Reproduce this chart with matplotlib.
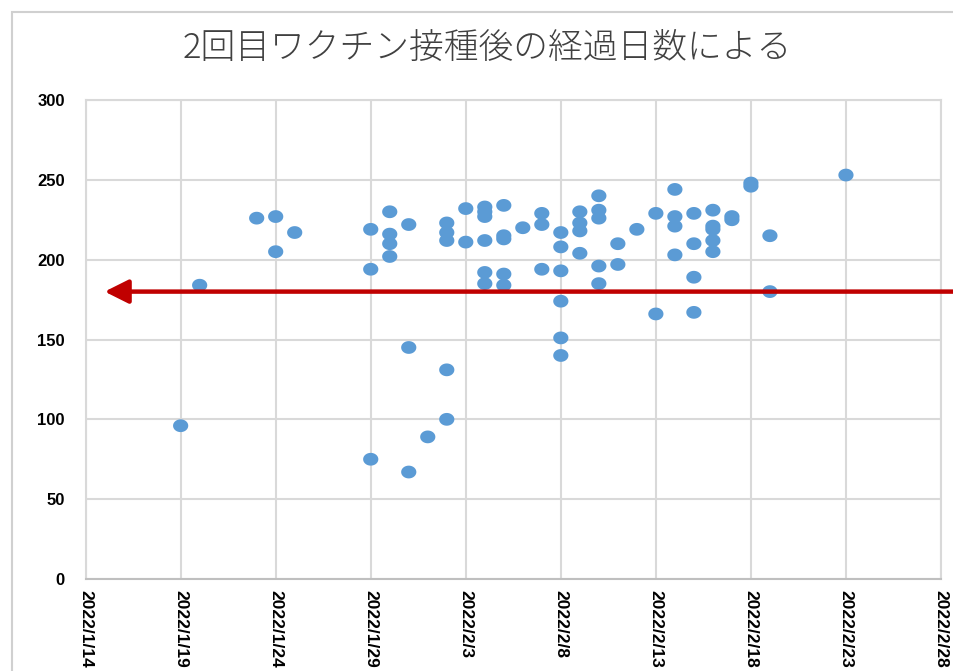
# 2回目ワクチン接種後の経過日数 - 散布図
import numpy as np
import pandas as pd
import matplotlib
matplotlib.use('Agg')
import matplotlib.pyplot as plt
from matplotlib.path import Path
from matplotlib.patches import Rectangle

titulo = '2回目ワクチン接種後の経過日数による'

# data: date of infection / days since 2nd dose
datas = (['2022/1/19', '2022/1/20', '2022/1/23'] + ['2022/1/24'] * 2 + ['2022/1/25']
         + ['2022/1/29'] * 3 + ['2022/1/30'] * 4 + ['2022/1/31'] * 3 + ['2022/2/1']
         + ['2022/2/2'] * 5 + ['2022/2/3'] * 2 + ['2022/2/4'] * 6 + ['2022/2/5'] * 5
         + ['2022/2/6'] + ['2022/2/7'] * 3 + ['2022/2/8'] * 6 + ['2022/2/9'] * 4
         + ['2022/2/10'] * 5 + ['2022/2/11'] * 2 + ['2022/2/12'] + ['2022/2/13'] * 2
         + ['2022/2/14'] * 4 + ['2022/2/15'] * 4 + ['2022/2/16'] * 5 + ['2022/2/17'] * 2
         + ['2022/2/18'] * 2 + ['2022/2/19'] * 2 + ['2022/2/23'])
dias = [96, 184, 226, 227, 205, 217,
        219, 194, 75, 230, 216, 210, 202, 222, 145, 67, 89,
        223, 217, 212, 131, 100, 232, 211, 233, 230, 227, 212, 192, 185,
        234, 215, 213, 191, 184, 220, 229, 222, 194,
        217, 208, 193, 174, 151, 140, 230, 223, 218, 204,
        240, 231, 226, 196, 185, 210, 197, 219, 229, 166,
        244, 227, 221, 203, 229, 210, 189, 167,
        231, 221, 219, 212, 205, 227, 225, 248, 246, 215, 180, 253]

rotulos_x = ['2022/1/14', '2022/1/19', '2022/1/24', '2022/1/29', '2022/2/3',
             '2022/2/8', '2022/2/13', '2022/2/18', '2022/2/23', '2022/2/28']
ticks_y = [0, 50, 100, 150, 200, 250, 300]
linha_ref = 180          # red arrow level
inicio_seta = '2022/1/15'

x = pd.to_datetime(datas, format='%Y/%m/%d')
xt = pd.to_datetime(rotulos_x, format='%Y/%m/%d')

plt.rcParams['font.family'] = ['Liberation Sans', 'DejaVu Sans']

fig = plt.figure(figsize=(9.54, 6.71), dpi=100)
# moldura do gráfico (estilo Excel)
fig.patches.append(Rectangle((12 / 954, -0.1), 1.2, 1 - 12 / 671 + 0.1, transform=fig.transFigure,
                             fill=False, edgecolor='#D0D0D0', lw=1.5))
ax = fig.add_axes([85.6 / 954, 1 - 579 / 671, (941 - 85.6) / 954, (579 - 100) / 671])

t = np.linspace(0, 2 * np.pi, 40)
elipse = Path(np.column_stack([0.5 * np.cos(t), 0.42 * np.sin(t)]), closed=True)
ax.scatter(x, dias, marker=elipse, s=120, color='#5B9BD5', edgecolors='none', zorder=3)

ax.set_xlim(xt[0], xt[-1])
ax.set_ylim(0, 300)
ax.set_xticks(xt)
ax.set_xticklabels(rotulos_x, rotation=270, fontsize=12.5, fontweight='bold', va='top', ha='center')
ax.set_yticks(ticks_y)
ax.set_yticklabels([str(v) for v in ticks_y], fontsize=12, fontweight='bold')
ax.tick_params(axis='x', length=0, pad=8)
ax.tick_params(axis='y', length=0, pad=15)
ax.grid(True, color='#D9D9D9', lw=1.5)
ax.set_axisbelow(True)
for s in ax.spines.values():
    s.set_color('#D9D9D9')
    s.set_linewidth(1.5)
ax.spines['bottom'].set_color('#BFBFBF')

ax.annotate('', xy=(pd.Timestamp(inicio_seta.replace('/', '-')), linha_ref),
            xytext=(1.0, linha_ref), xycoords='data', textcoords=('figure fraction', 'data'),
            arrowprops=dict(arrowstyle='-|>,head_length=0.9,head_width=0.45', color='#C00000',
                            lw=3.2, shrinkA=0, shrinkB=0, mutation_scale=16),
            annotation_clip=False, zorder=4)

fig.text(487 / 954, 1 - 48 / 671, titulo, ha='center', va='center', fontsize=25,
         family=['Noto Sans CJK JP', 'DejaVu Sans'], fontweight='light', color='#404040')

fig.savefig('out.png', dpi=100)
